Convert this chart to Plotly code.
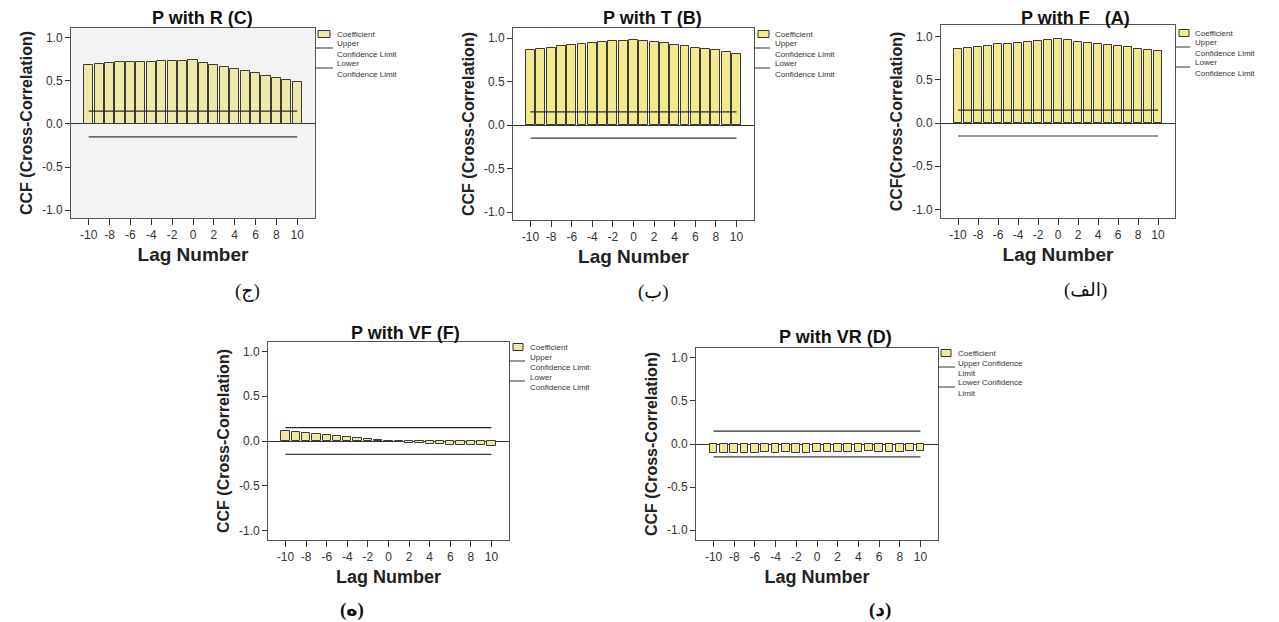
import plotly.graph_objects as go

# ---------------- data ----------------
lags = [-10, -9, -8, -7, -6, -5, -4, -3, -2, -1, 0, 1, 2, 3, 4, 5, 6, 7, 8, 9, 10]
x_tick_vals = [-10, -8, -6, -4, -2, 0, 2, 4, 6, 8, 10]
x_tick_text = ["-10", "-8", "-6", "-4", "-2", "0", "2", "4", "6", "8", "10"]
y_tick_vals = [-1.0, -0.5, 0.0, 0.5, 1.0]
y_tick_text = ["-1.0", "-0.5", "0.0", "0.5", "1.0"]

ccf_R = [0.69, 0.70, 0.71, 0.72, 0.72, 0.725, 0.725, 0.73, 0.73, 0.735, 0.74,
         0.71, 0.69, 0.66, 0.635, 0.615, 0.59, 0.56, 0.54, 0.51, 0.49]
ccf_T = [0.86, 0.875, 0.89, 0.905, 0.92, 0.93, 0.94, 0.95, 0.965, 0.97, 0.98,
         0.965, 0.955, 0.94, 0.925, 0.91, 0.89, 0.875, 0.86, 0.84, 0.82]
ccf_F = [0.85, 0.865, 0.877, 0.892, 0.908, 0.919, 0.93, 0.938, 0.95, 0.954, 0.969,
         0.954, 0.938, 0.927, 0.912, 0.904, 0.888, 0.877, 0.858, 0.846, 0.835]
ccf_VF = [0.11, 0.10, 0.09, 0.075, 0.064, 0.053, 0.041, 0.03, 0.019, 0.008, -0.004,
          -0.011, -0.019, -0.026, -0.034, -0.038, -0.045, -0.045, -0.049, -0.049, -0.053]
ccf_VR = [-0.105, -0.10, -0.10, -0.10, -0.10, -0.097, -0.105, -0.097, -0.10, -0.108, -0.093,
          -0.095, -0.095, -0.097, -0.097, -0.085, -0.095, -0.095, -0.089, -0.085, -0.08]

upper_limit = [0.15, 0.15, 0.15, 0.15, 0.15, 0.15, 0.15, 0.15, 0.15, 0.15, 0.15,
               0.15, 0.15, 0.15, 0.15, 0.15, 0.15, 0.15, 0.15, 0.15, 0.15]
lower_limit = [-0.15, -0.15, -0.15, -0.15, -0.15, -0.15, -0.15, -0.15, -0.15, -0.15, -0.15,
               -0.15, -0.15, -0.15, -0.15, -0.15, -0.15, -0.15, -0.15, -0.15, -0.15]

titles = ["P with R (C)", "P with T (B)", "P with F   (A)", "P with VF (F)", "P with VR (D)"]
y_titles = ["CCF (Cross-Correlation)", "CCF (Cross-Correlation)", "CCF(Cross-Correlation)",
            "CCF (Cross-Correlation)", "CCF (Cross-Correlation)"]
panel_labels = ["(ج)", "(ب)", "(الف)", "(ه)", "(د)"]
legend_coef = "Coefficient"
legend_upper_lines = [["Upper", "Confidence Limit"]] * 4 + [["Upper Confidence", "Limit"]]
legend_lower_lines = [["Lower", "Confidence Limit"]] * 4 + [["Lower Confidence", "Limit"]]
series = [ccf_R, ccf_T, ccf_F, ccf_VF, ccf_VR]

# ---------------- layout / style ----------------
W, H = 1279, 622
FONT = "Liberation Sans, Arial, sans-serif"
AR_FONT = "Liberation Serif, DejaVu Sans, serif"

# plot boxes in pixels: (left, top, right, bottom)
boxes = [(71, 28, 315, 218), (513, 28, 754, 220), (941, 25, 1175, 218),
         (268, 342, 509, 540), (696, 348, 938, 540)]
yranges = [(-1.093, 1.116), (-1.092, 1.115), (-1.098, 1.133), (-1.106, 1.106), (-1.116, 1.116)]
xrange_ = (-11.7, 11.7)
bar_widths = [0.88, 0.86, 0.86, 0.8, 0.74]
bar_colors = ["#efe9a9", "#f3ea8e", "#f2e98f", "#efe8a0", "#f1ea92"]
plot_bgs = ["#f3f3f3", "white", "white", "white", "white"]
title_pos = [(202, 18), (652, 18), (1075, 18), (405, 333), (835, 337)]
title_sizes = [18, 18, 18, 18, 18]
label_pos = [(247, 291), (653, 292), (1085, 290), (352, 610), (880, 610)]
label_bold = [False, False, False, True, True]
# legend anchors: square x0/x1, text x, first row y, line x0/x1
legends = [
    (318, 330, 335, 34, 315, 333),
    (758, 769, 773, 34, 754, 770),
    (1179, 1189, 1193, 33, 1175, 1190),
    (513, 523, 528, 347, 509, 525),
    (941, 951, 956, 353, 938, 955),
]
ROW = 10  # legend row spacing in px


def px(x):
    return x / W


def py(y):
    return 1 - y / H


fig = go.Figure()
annotations = []
shapes = []
layout_axes = {}

for i in range(5):
    n = "" if i == 0 else str(i + 1)
    xa, ya = "x" + n, "y" + n
    l, t, r, b = boxes[i]
    fig.add_trace(go.Bar(
        x=lags, y=series[i], xaxis=xa, yaxis=ya, width=bar_widths[i],
        marker=dict(color=bar_colors[i], line=dict(color="#3a3a3a", width=1)),
        name=legend_coef, showlegend=False))
    fig.add_trace(go.Scatter(
        x=lags, y=upper_limit, xaxis=xa, yaxis=ya, mode="lines",
        line=dict(color="#2b2b2b", width=1.2), name="Upper Confidence Limit", showlegend=False))
    fig.add_trace(go.Scatter(
        x=lags, y=lower_limit, xaxis=xa, yaxis=ya, mode="lines",
        line=dict(color="#3a3a3a", width=1.2), name="Lower Confidence Limit", showlegend=False))

    layout_axes["xaxis" + n] = dict(
        domain=[px(l), px(r)], anchor=ya, range=list(xrange_),
        tickvals=x_tick_vals, ticktext=x_tick_text, ticks="outside", ticklen=6, tickcolor="#333",
        showline=True, linecolor="#555", linewidth=1, mirror=True,
        showgrid=False, zeroline=False,
        tickfont=dict(family=FONT, size=12, color="#333"),
        title=dict(text="Lag Number", standoff=6,
                   font=dict(family=FONT, size=19 if i < 3 else 18, color="#222", weight="bold")),
    )
    layout_axes["yaxis" + n] = dict(
        domain=[py(b), py(t)], anchor=xa, range=list(yranges[i]),
        tickvals=y_tick_vals, ticktext=y_tick_text, ticks="outside", ticklen=5, tickcolor="#333",
        showline=True, linecolor="#555", linewidth=1, mirror=True,
        showgrid=False, zeroline=True, zerolinecolor="#333", zerolinewidth=1,
        tickfont=dict(family=FONT, size=12, color="#333"),
        title=dict(text=y_titles[i], standoff=5,
                   font=dict(family=FONT, size=16, color="#222", weight="bold")),
    )
    # plot background
    shapes.append(dict(type="rect", xref=xa + " domain", yref=ya + " domain",
                       x0=0, x1=1, y0=0, y1=1, fillcolor=plot_bgs[i],
                       line=dict(width=0), layer="below"))

    # panel title
    tx, ty = title_pos[i]
    annotations.append(dict(x=px(tx), y=py(ty), xref="paper", yref="paper",
                            text=titles[i], showarrow=False, xanchor="center", yanchor="middle",
                            font=dict(family=FONT, size=title_sizes[i], color="#111", weight="bold")))
    # panel label (Persian)
    lx, ly = label_pos[i]
    annotations.append(dict(x=px(lx), y=py(ly), xref="paper", yref="paper",
                            text=("<b>%s</b>" % panel_labels[i]) if label_bold[i] else panel_labels[i],
                            showarrow=False, xanchor="center", yanchor="middle",
                            font=dict(family=AR_FONT, size=19, color="#111")))
    # legend
    sx0, sx1, txl, cy, lx0, lx1 = legends[i]
    rows = [cy + ROW * k for k in range(5)]
    shapes.append(dict(type="rect", xref="paper", yref="paper",
                       x0=px(sx0), x1=px(sx1), y0=py(cy + 3.5), y1=py(cy - 3.5),
                       fillcolor=bar_colors[i], line=dict(color="#333", width=1)))
    for ly_line in [(rows[1] + rows[2]) / 2 - 1, (rows[3] + rows[4]) / 2 - 1]:
        shapes.append(dict(type="line", xref="paper", yref="paper",
                           x0=px(lx0), x1=px(lx1), y0=py(ly_line), y1=py(ly_line),
                           line=dict(color="#333", width=1)))
    texts = [legend_coef, legend_upper_lines[i][0], legend_upper_lines[i][1],
             legend_lower_lines[i][0], legend_lower_lines[i][1]]
    for txt, yy in zip(texts, rows):
        annotations.append(dict(x=px(txl), y=py(yy), xref="paper", yref="paper", text=txt,
                                showarrow=False, xanchor="left", yanchor="middle",
                                font=dict(family=FONT, size=8, color="#333")))

fig.update_layout(
    width=W, height=H, margin=dict(l=0, r=0, t=0, b=0),
    paper_bgcolor="white", plot_bgcolor="rgba(0,0,0,0)",
    showlegend=False, bargap=0, annotations=annotations, shapes=shapes,
    **layout_axes,
)

fig.write_html("out.html", config={"displayModeBar": False})
